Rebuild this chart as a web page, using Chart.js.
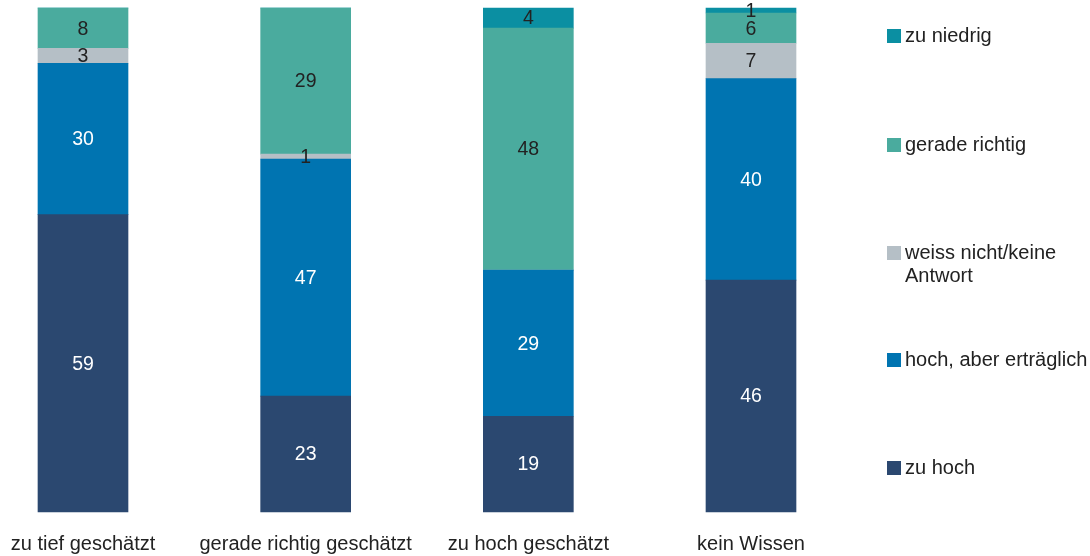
<!DOCTYPE html>
<html>
<head>
<meta charset="utf-8">
<script src="https://cdn.jsdelivr.net/npm/chart.js@4/dist/chart.umd.min.js"></script>
<style>
  html, body { margin: 0; padding: 0; background: #fff; }
  #wrap { position: relative; width: 1090px; height: 556px; }
  #c { position: absolute; left: 0; top: 0; }
  .leg { position: absolute; left: 887px; font-family: "Liberation Sans", Arial, sans-serif; font-size: 20px; line-height: 23px; color: #222; }
  .leg .sw { position: absolute; left: 0; top: 5px; width: 14px; height: 14px; }
  .leg .tx { position: absolute; left: 18px; top: 0; white-space: nowrap; }
</style>
</head>
<body>
<div id="wrap">
  <canvas id="c" width="1090" height="556"></canvas>
  <div id="legend"></div>
</div>
<script>
const categories = ["zu tief geschätzt", "gerade richtig geschätzt", "zu hoch geschätzt", "kein Wissen"];
const seriesNames = ["zu hoch", "hoch, aber erträglich", "weiss nicht/keine Antwort", "gerade richtig", "zu niedrig"];
const zuHoch = [59, 23, 19, 46];
const hochAberErtraeglich = [30, 47, 29, 40];
const weissNicht = [3, 1, 0, 7];
const geradeRichtig = [8, 29, 48, 6];
const zuNiedrig = [0, 0, 4, 1];
const seriesColors = ["#2b4870", "#0074b1", "#b5bfc6", "#4aab9e", "#0b8fa2"];
const labelColors = ["#ffffff", "#ffffff", "#222222", "#222222", "#222222"];

const seriesValues = [zuHoch, hochAberErtraeglich, weissNicht, geradeRichtig, zuNiedrig];

const FONT = '"Liberation Sans", Arial, sans-serif';

const valueLabels = {
  id: 'valueLabels',
  afterDatasetsDraw(chart) {
    const ctx = chart.ctx;
    ctx.save();
    ctx.font = '19.5px ' + FONT;
    ctx.textAlign = 'center';
    ctx.textBaseline = 'middle';
    chart.data.datasets.forEach((ds, di) => {
      const meta = chart.getDatasetMeta(di);
      meta.data.forEach((el, i) => {
        const v = ds.data[i];
        if (!v) return;
        const p = el.getProps(['x', 'y', 'base'], true);
        ctx.fillStyle = labelColors[di];
        ctx.fillText(String(v), p.x, (p.y + p.base) / 2 + 1);
      });
    });
    ctx.restore();
  }
};

const datasets = seriesNames.map((name, i) => ({
  label: name,
  data: seriesValues[i],
  backgroundColor: seriesColors[i],
  borderWidth: 0,
  barThickness: 90,
  clip: false
}));

new Chart(document.getElementById('c'), {
  type: 'bar',
  data: { labels: categories, datasets },
  options: {
    responsive: false,
    animation: false,
    events: [],
    layout: { padding: { left: 83, right: 339, top: 8, bottom: 0 } },
    plugins: { legend: { display: false }, tooltip: { enabled: false } },
    scales: {
      x: {
        stacked: true,
        offset: false,
        grid: { display: false, drawTicks: false },
        border: { display: false },
        ticks: { color: '#222', font: { family: FONT, size: 20 }, padding: 20, maxRotation: 0, autoSkip: false },
        afterFit(scale) {
          scale.height = 44;
          scale.paddingLeft = 0;
          scale.paddingRight = 0;
        }
      },
      y: {
        stacked: true,
        display: false,
        min: 0,
        max: 100
      }
    }
  },
  plugins: [valueLabels]
});

// legend (top to bottom as in reference)
const legendOrder = [4, 3, 2, 1, 0];
const legendTops = [24, 133, 241, 348, 456];
const legendLines = { 2: ["weiss nicht/keine", "Antwort"] };
const legEl = document.getElementById('legend');
legendOrder.forEach((si, k) => {
  const d = document.createElement('div');
  d.className = 'leg';
  d.style.top = legendTops[k] + 'px';
  const sw = document.createElement('div');
  sw.className = 'sw';
  sw.style.background = seriesColors[si];
  const tx = document.createElement('div');
  tx.className = 'tx';
  const lines = legendLines[si] || [seriesNames[si]];
  tx.innerHTML = lines.join('<br>');
  d.appendChild(sw);
  d.appendChild(tx);
  legEl.appendChild(d);
});
</script>
</body>
</html>
